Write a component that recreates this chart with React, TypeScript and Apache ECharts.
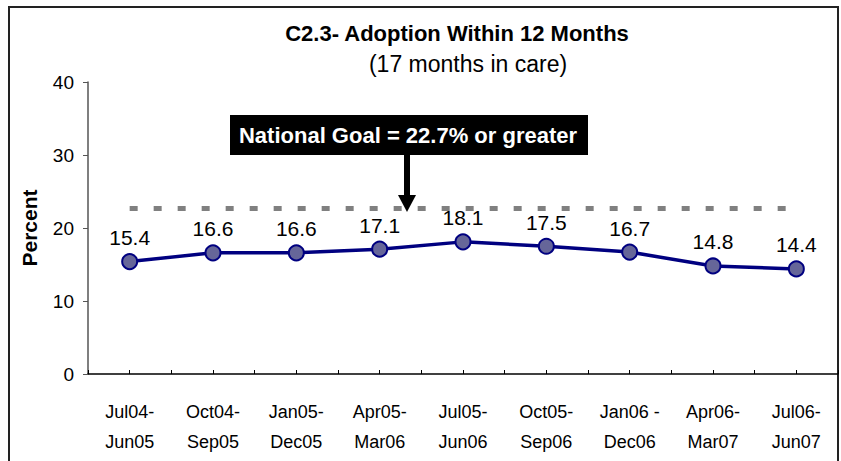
import React, { useEffect, useRef } from "react";
import * as echarts from "echarts";

const categories = [
  "Jul04-\nJun05",
  "Oct04-\nSep05",
  "Jan05-\nDec05",
  "Apr05-\nMar06",
  "Jul05-\nJun06",
  "Oct05-\nSep06",
  "Jan06 -\nDec06",
  "Apr06-\nMar07",
  "Jul06-\nJun07",
];
const adoptionPct = [15.4, 16.6, 16.6, 17.1, 18.1, 17.5, 16.7, 14.8, 14.4];
const nationalGoal = 22.7;
const yTicks = [0, 10, 20, 30, 40];
const titleText = "C2.3- Adoption Within 12 Months";
const subtitleText = "(17 months in care)";
const goalText = "National Goal = 22.7% or greater";

const FONT = "'Liberation Sans', Arial, sans-serif";

export default function App() {
  const ref = useRef<HTMLDivElement>(null);
  useEffect(() => {
    document.body.style.margin = "0";
    const chart = echarts.init(ref.current!, null, { renderer: "svg" });
    const halfTicks = Array.from({ length: categories.length * 2 }, () => "");
    chart.setOption({
      animation: false,
      backgroundColor: "#ffffff",
      textStyle: { fontFamily: FONT },
      title: [
        {
          text: titleText,
          left: 452,
          top: 17,
          textAlign: "center",
          textStyle: { fontFamily: FONT, fontSize: 22, fontWeight: "bold", color: "#000" },
        },
        {
          text: subtitleText,
          left: 463,
          top: 47,
          textAlign: "center",
          textStyle: { fontFamily: FONT, fontSize: 23, fontWeight: "normal", color: "#000" },
        },
      ],
      grid: { left: 88, right: 3, top: 82, bottom: 87, containLabel: false },
      xAxis: [
        {
          type: "category",
          data: categories,
          boundaryGap: true,
          axisLine: { show: true, lineStyle: { color: "#000", width: 1.5 } },
          axisTick: { show: false },
          axisLabel: {
            fontFamily: FONT,
            fontSize: 18,
            color: "#000",
            lineHeight: 30,
            margin: 23,
            interval: 0,
          },
        },
        {
          type: "category",
          data: halfTicks,
          position: "bottom",
          boundaryGap: true,
          axisLine: { show: false },
          axisTick: { show: true, inside: true, length: 4, lineStyle: { color: "#000" } },
          axisLabel: { show: false },
        },
      ],
      yAxis: {
        type: "value",
        min: yTicks[0],
        max: yTicks[yTicks.length - 1],
        interval: 10,
        name: "Percent",
        nameLocation: "middle",
        nameRotate: 90,
        nameGap: 48,
        nameTextStyle: { fontFamily: FONT, fontSize: 21, fontWeight: "bold", color: "#000" },
        axisLine: { show: true, lineStyle: { color: "#555", width: 1.5 } },
        axisTick: { show: true, length: 5, lineStyle: { color: "#555" } },
        splitLine: { show: false },
        axisLabel: { fontFamily: FONT, fontSize: 19, color: "#000", margin: 14 },
      },
      series: [
        {
          type: "line",
          data: adoptionPct,
          xAxisIndex: 0,
          symbol: "circle",
          symbolSize: 15,
          lineStyle: { color: "#000080", width: 3.5 },
          itemStyle: { color: "#666699", borderColor: "#000080", borderWidth: 2 },
          label: {
            show: true,
            position: "top",
            distance: 5,
            fontFamily: FONT,
            fontSize: 21,
            color: "#000",
          },
          markLine: {
            silent: true,
            symbol: ["none", "none"],
            label: { show: false },
            lineStyle: { color: "#808080", type: [8, 16], width: 5 },
            data: [
              [
                { coord: [0, nationalGoal] },
                { coord: [categories.length - 1, nationalGoal] },
              ],
            ],
          },
          z: 3,
        },
      ],
      graphic: [
        {
          type: "rect",
          shape: { x: 9, y: 7, width: 829, height: 470 },
          style: { fill: "none", stroke: "#222", lineWidth: 2 },
          silent: true,
        },
        {
          type: "rect",
          shape: { x: 230, y: 115, width: 358, height: 40 },
          style: { fill: "#000" },
          z: 10,
        },
        {
          type: "text",
          x: 408,
          y: 135,
          style: {
            text: goalText,
            fill: "#fff",
            font: `bold 22px ${FONT}`,
            align: "center",
            verticalAlign: "middle",
          },
          z: 11,
        },
        {
          type: "line",
          shape: { x1: 407, y1: 155, x2: 407, y2: 197 },
          style: { stroke: "#000", lineWidth: 6 },
          z: 10,
        },
        {
          type: "polygon",
          shape: { points: [[398, 195], [416, 195], [407, 212]] },
          style: { fill: "#000" },
          z: 10,
        },
      ],
    });
    return () => chart.dispose();
  }, []);
  return <div ref={ref} style={{ width: 841, height: 461 }} />;
}
